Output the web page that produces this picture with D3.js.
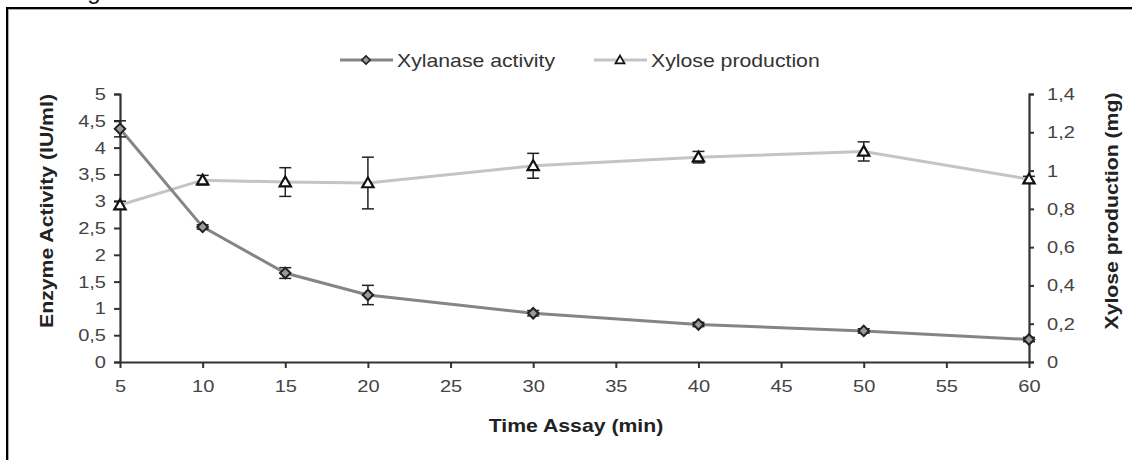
<!DOCTYPE html>
<html>
<head>
<meta charset="utf-8">
<script src="https://cdn.jsdelivr.net/npm/d3@7"></script>
<style>
  body { margin: 0; background: #fff; }
  svg { display: block; font-family: "Liberation Sans", Arial, sans-serif; }
</style>
</head>
<body>
<svg></svg>
<script>
const width = 1132;
const height = 460;

// -----------------------------
// DATA
// -----------------------------
const times = [5, 10, 15, 20, 30, 40, 50, 60];
const xylanase = [4.35, 2.52, 1.66, 1.25, 0.91, 0.70, 0.58, 0.42];
const xylanaseErr = [0.15, 0.04, 0.10, 0.18, 0.05, 0.04, 0.04, 0.04];
const xylose = [0.82, 0.95, 0.94, 0.935, 1.025, 1.07, 1.10, 0.955];
const xyloseErr = [0.02, 0.025, 0.075, 0.135, 0.065, 0.03, 0.05, 0.015];

const xTicks = [5, 10, 15, 20, 25, 30, 35, 40, 45, 50, 55, 60];
const yLeftTicks = [0, 0.5, 1, 1.5, 2, 2.5, 3, 3.5, 4, 4.5, 5];
const yRightTicks = [0, 0.2, 0.4, 0.6, 0.8, 1, 1.2, 1.4];

const fmt = v => String(v).replace(".", ",");

// the original text is a bit wider than Arial, so stretch it a little
const SX = 1.18;

const svg = d3.select("svg")
  .attr("width", width)
  .attr("height", height);

// -----------------------------
// FRAME
// -----------------------------
svg.append("rect")
  .attr("x", 8).attr("y", 9)
  .attr("width", 1200).attr("height", 600)
  .attr("fill", "none")
  .attr("stroke", "#aaa")
  .attr("stroke-width", 2);
svg.append("rect")
  .attr("x", 7).attr("y", 8)
  .attr("width", 1200).attr("height", 600)
  .attr("fill", "none")
  .attr("stroke", "#000")
  .attr("stroke-width", 2);

svg.append("text")
  .attr("x", 94).attr("y", -1)
  .attr("text-anchor", "middle")
  .attr("font-size", 24)
  .attr("fill", "#111")
  .text("g");

// -----------------------------
// SCALES
// -----------------------------
const x = d3.scaleLinear().domain([5, 60]).range([120, 1029]);
const yL = d3.scaleLinear().domain([0, 5]).range([362, 94]);
const yR = d3.scaleLinear().domain([0, 1.4]).range([362, 94]);

const axisColor = "#333";
const labelColor = "#444";

function styleAxis(g) {
  g.select(".domain").attr("stroke", axisColor).attr("stroke-width", 2.2);
  g.selectAll(".tick line").attr("stroke", axisColor).attr("stroke-width", 2);
  g.selectAll(".tick text")
    .attr("fill", labelColor)
    .attr("font-size", 17)
    .attr("x", function () { return (+d3.select(this).attr("x") || 0) / SX; })
    .attr("transform", `scale(${SX},1)`);
}

// -----------------------------
// AXES
// -----------------------------
svg.append("g")
  .attr("transform", "translate(0,362)")
  .call(d3.axisBottom(x).tickValues(xTicks).tickSize(6).tickSizeOuter(0).tickPadding(12))
  .call(styleAxis);

svg.append("g")
  .attr("transform", "translate(120,0)")
  .call(d3.axisLeft(yL).tickValues(yLeftTicks).tickFormat(fmt).tickSize(6).tickSizeOuter(6).tickPadding(8))
  .call(styleAxis);

svg.append("g")
  .attr("transform", "translate(1029,0)")
  .call(d3.axisRight(yR).tickValues(yRightTicks).tickFormat(fmt).tickSize(5).tickSizeOuter(5).tickPadding(13))
  .call(styleAxis);

// -----------------------------
// TITLES
// -----------------------------
svg.append("text")
  .attr("transform", `translate(53,211) rotate(-90) scale(${SX},1)`)
  .attr("text-anchor", "middle")
  .attr("font-size", 18)
  .attr("font-weight", "bold")
  .attr("fill", "#222")
  .text("Enzyme Activity (IU/ml)");

svg.append("text")
  .attr("transform", `translate(1118,211) rotate(-90) scale(${SX},1)`)
  .attr("text-anchor", "middle")
  .attr("font-size", 18)
  .attr("font-weight", "bold")
  .attr("fill", "#222")
  .text("Xylose production (mg)");

svg.append("text")
  .attr("transform", `translate(576,432) scale(${SX},1)`)
  .attr("text-anchor", "middle")
  .attr("font-size", 18)
  .attr("font-weight", "bold")
  .attr("fill", "#222")
  .text("Time Assay (min)");

// -----------------------------
// SERIES
// -----------------------------
const series = [
  { name: "Xylanase activity", values: xylanase, err: xylanaseErr, y: yL, color: "#858585", marker: "diamond" },
  { name: "Xylose production", values: xylose, err: xyloseErr, y: yR, color: "#c4c4c4", marker: "triangle" }
];

function drawMarker(g, s) {
  if (s.marker === "diamond") {
    g.append("path")
      .attr("d", d3.symbol().type(d3.symbolSquare).size(55)())
      .attr("transform", "rotate(45)")
      .attr("fill", "#9a9a9a")
      .attr("stroke", "#222")
      .attr("stroke-width", 2);
  } else {
    g.append("path")
      .attr("d", d3.symbol().type(d3.symbolTriangle).size(55)())
      .attr("transform", "translate(0,1)")
      .attr("fill", "#fff")
      .attr("stroke", "#111")
      .attr("stroke-width", 2.2);
  }
}

// draw xylose first so xylanase sits on top
[series[1], series[0]].forEach(s => {
  const pts = times.map((t, i) => ({ t, v: s.values[i], e: s.err[i] }));
  const g = svg.append("g");

  g.append("path")
    .datum(pts)
    .attr("fill", "none")
    .attr("stroke", s.color)
    .attr("stroke-width", 3)
    .attr("d", d3.line().x(d => x(d.t)).y(d => s.y(d.v)));

  const eb = g.selectAll(".err")
    .data(pts)
    .join("g")
    .attr("stroke", "#222")
    .attr("stroke-width", 1.5);
  eb.append("line")
    .attr("x1", d => x(d.t)).attr("x2", d => x(d.t))
    .attr("y1", d => s.y(d.v - d.e)).attr("y2", d => s.y(d.v + d.e));
  eb.append("line")
    .attr("x1", d => x(d.t) - 6).attr("x2", d => x(d.t) + 6)
    .attr("y1", d => s.y(d.v + d.e)).attr("y2", d => s.y(d.v + d.e));
  eb.append("line")
    .attr("x1", d => x(d.t) - 6).attr("x2", d => x(d.t) + 6)
    .attr("y1", d => s.y(d.v - d.e)).attr("y2", d => s.y(d.v - d.e));

  g.selectAll(".mk")
    .data(pts)
    .join("g")
    .attr("transform", d => `translate(${x(d.t)},${s.y(d.v)})`)
    .each(function () { drawMarker(d3.select(this), s); });
});

// -----------------------------
// LEGEND
// -----------------------------
const legendPos = [340, 594];
series.forEach((s, i) => {
  const lg = svg.append("g").attr("transform", `translate(${legendPos[i]},60)`);
  lg.append("line")
    .attr("x1", 0).attr("x2", 53)
    .attr("stroke", s.color)
    .attr("stroke-width", 3);
  const m = lg.append("g").attr("transform", "translate(26,0) scale(0.8)");
  drawMarker(m, s);
  lg.append("text")
    .attr("transform", `translate(57,6.5) scale(${SX},1)`)
    .attr("font-size", 18)
    .attr("fill", "#333")
    .text(s.name);
});
</script>
</body>
</html>
